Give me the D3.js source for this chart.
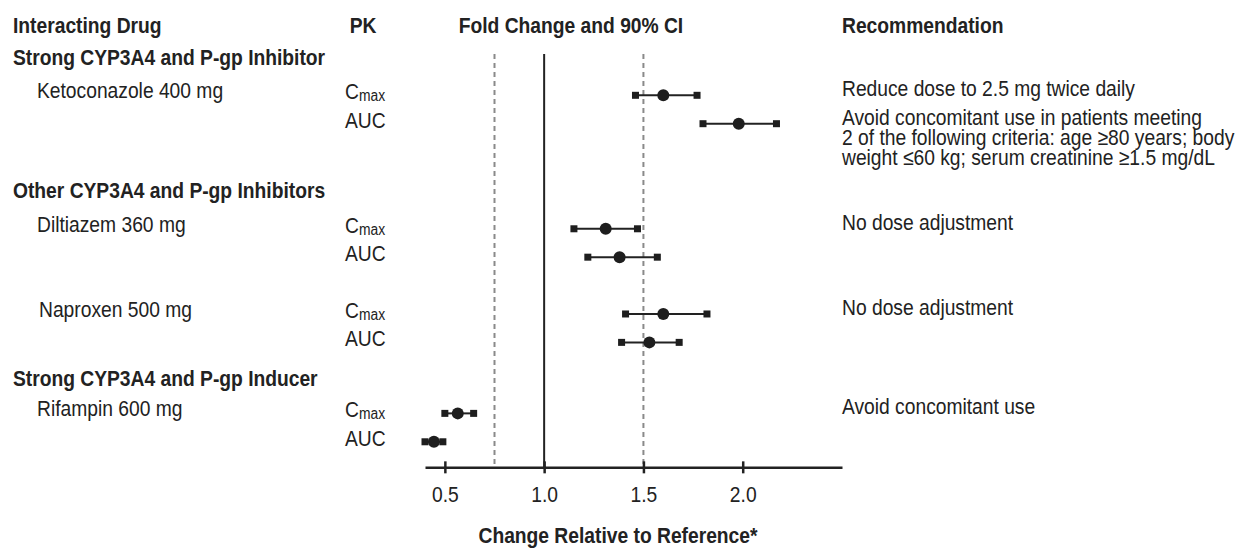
<!DOCTYPE html>
<html>
<head>
<meta charset="utf-8">
<script src="https://cdn.jsdelivr.net/npm/d3@7"></script>
<style>
  html, body { margin: 0; padding: 0; background: #fff; }
  svg text { font-family: "Liberation Sans", Arial, sans-serif; fill: #222; }
  .bold { font-weight: bold; }
</style>
</head>
<body>
<div id="chart"></div>
<script>
// data
const groups = ['Strong CYP3A4 and P-gp Inhibitor', 'Other CYP3A4 and P-gp Inhibitors', 'Strong CYP3A4 and P-gp Inducer'];
const drugs = ['Ketoconazole 400 mg', 'Diltiazem 360 mg', 'Naproxen 500 mg', 'Rifampin 600 mg'];
const drugGroup = [0, 1, 1, 2];
const params = ['Cmax', 'AUC'];
const cmaxEst = [1.60, 1.31, 1.60, 0.565];
const cmaxLo = [1.46, 1.15, 1.41, 0.50];
const cmaxHi = [1.77, 1.47, 1.82, 0.645];
const aucEst = [1.98, 1.38, 1.53, 0.445];
const aucLo = [1.80, 1.22, 1.39, 0.40];
const aucHi = [2.17, 1.57, 1.68, 0.49];
const refLine = 1.0;
const boundLines = [0.75, 1.5];
const xTicks = [0.5, 1.0, 1.5, 2.0];
const recDrug = [0, 0, 1, 2, 3];
const recParam = [0, 1, 0, 0, 0];
const recText = [
  ['Reduce dose to 2.5 mg twice daily'],
  ['Avoid concomitant use in patients meeting', '2 of the following criteria: age \u226580 years; body', 'weight \u226460 kg; serum creatinine \u22651.5 mg/dL'],
  ['No dose adjustment'],
  ['No dose adjustment'],
  ['Avoid concomitant use']
];

const width = 1247, height = 548;
const fs = 22;
const sx = 0.875; // squeeze to mimic the condensed face

const svg = d3.select('#chart').append('svg')
  .attr('width', width)
  .attr('height', height);

// layout: vertical position in row units
const drugRow = [0, 4.7, 7.7, 11.2];
const groupRow = [-1.07, 3.62, 10.25];
const headerRow = -2.2;
const axisRow = 13.1;
const topRow = -1.45;

const y = d3.scaleLinear().domain([0, 1]).range([95.3, 123.7]);
const x = d3.scaleLinear().domain([0.4, 2.5]).range([425, 842]);

// condensed text helper
const label = (parent, tx, ty, str, cls, anchor) => {
  const t = parent.append('g')
    .attr('transform', `translate(${tx},${ty}) scale(${sx},1)`)
    .append('text')
    .attr('class', cls || null)
    .attr('text-anchor', anchor || 'start')
    .style('font-size', fs + 'px');
  if (str != null) t.text(str);
  return t;
};

// flatten rows
const rows = [];
drugs.forEach((d, i) => {
  rows.push({ drug: i, p: 0, est: cmaxEst[i], lo: cmaxLo[i], hi: cmaxHi[i], r: drugRow[i] });
  rows.push({ drug: i, p: 1, est: aucEst[i], lo: aucLo[i], hi: aucHi[i], r: drugRow[i] + 1 });
});

// column headers
label(svg, 13, y(headerRow), 'Interacting Drug', 'bold');
label(svg, 363, y(headerRow), 'PK', 'bold', 'middle');
label(svg, 571, y(headerRow), 'Fold Change and 90% CI', 'bold', 'middle');
label(svg, 842, y(headerRow), 'Recommendation', 'bold');

// group headings
groups.forEach((g, i) => label(svg, 13, y(groupRow[i]), g, 'bold'));

// drug names
drugs.forEach((d, i) => label(svg, i === 2 ? 39 : 37, y(drugRow[i]) + 3, d));

// PK labels
rows.forEach(d => {
  const t = label(svg, 345, y(d.r) + 4, null);
  if (params[d.p] === 'Cmax') {
    t.append('tspan').text('C');
    t.append('tspan').attr('dy', 2).style('font-size', (fs * 0.72) + 'px').text('max');
  } else {
    t.text(params[d.p]);
  }
});

// reference lines
svg.append('line')
  .attr('x1', x(refLine)).attr('x2', x(refLine))
  .attr('y1', y(topRow)).attr('y2', y(axisRow))
  .attr('stroke', '#222').attr('stroke-width', 2);

svg.selectAll('.bound')
  .data(boundLines)
  .enter().append('line')
  .attr('class', 'bound')
  .attr('x1', d => x(d)).attr('x2', d => x(d))
  .attr('y1', y(topRow)).attr('y2', y(axisRow))
  .attr('stroke', '#8a8a8a').attr('stroke-width', 2)
  .attr('stroke-dasharray', '5,4');

// x axis
const axis = svg.append('g')
  .attr('transform', `translate(0,${y(axisRow)})`)
  .call(d3.axisBottom(x).tickValues(xTicks).tickFormat(d3.format('.1f')).tickSizeOuter(0).tickSizeInner(6).tickPadding(13));
axis.select('.domain').attr('stroke', '#222').attr('stroke-width', 2.5);
axis.selectAll('.tick line').attr('y1', -6).attr('y2', 6).attr('stroke', '#222').attr('stroke-width', 2.5);
axis.selectAll('.tick text')
  .attr('transform', `scale(${sx},1)`)
  .style('font-family', '"Liberation Sans", Arial, sans-serif')
  .style('font-size', fs + 'px')
  .attr('fill', '#222');

label(svg, 618, 543, 'Change Relative to Reference*', 'bold', 'middle');

// CI bars
const ci = svg.append('g');
ci.selectAll('.ci')
  .data(rows)
  .enter().append('line')
  .attr('x1', d => x(d.lo)).attr('x2', d => x(d.hi))
  .attr('y1', d => y(d.r)).attr('y2', d => y(d.r))
  .attr('stroke', '#222').attr('stroke-width', 2);

const capSize = 7;
['lo', 'hi'].forEach(k => {
  ci.selectAll('.cap-' + k)
    .data(rows)
    .enter().append('rect')
    .attr('x', d => x(d[k]) - capSize / 2)
    .attr('y', d => y(d.r) - capSize / 2)
    .attr('width', capSize).attr('height', capSize)
    .attr('fill', '#1e1e1e');
});

ci.selectAll('.pt')
  .data(rows)
  .enter().append('circle')
  .attr('cx', d => x(d.est))
  .attr('cy', d => y(d.r))
  .attr('r', 6)
  .attr('fill', '#1e1e1e');

// recommendations
recText.forEach((lines, i) => {
  const t = label(svg, 842, y(drugRow[recDrug[i]] + recParam[i]) + 1, null);
  lines.forEach((l, j) => {
    t.append('tspan').attr('x', 0).attr('dy', j === 0 ? 0 : 20).text(l);
  });
});
</script>
</body>
</html>
